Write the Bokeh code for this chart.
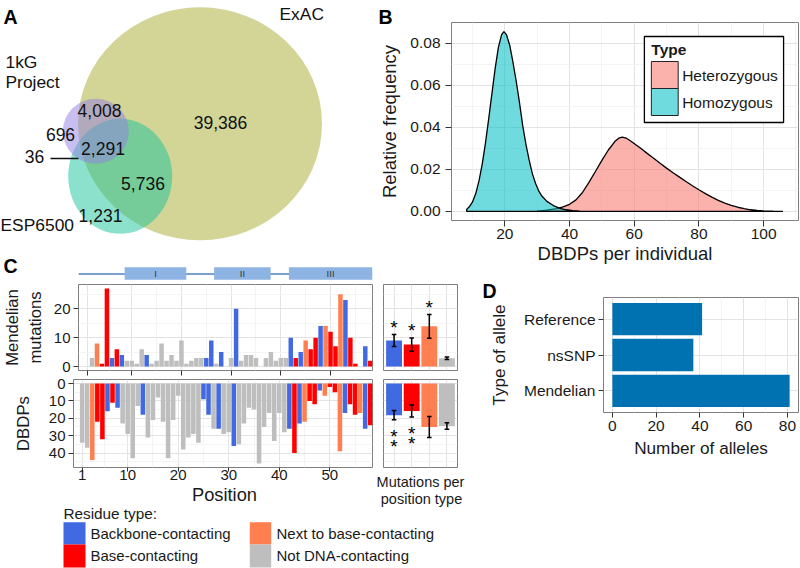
from bokeh.plotting import figure
from bokeh.layouts import row, column
from bokeh.models import Range1d, FixedTicker, Grid, NumeralTickFormatter, ColumnDataSource, GridBox
from bokeh.embed import file_html
from bokeh.resources import INLINE
from bokeh.core.properties import value

# ======================= DATA =======================
# Panel A: Venn region counts
venn_set_names = ["ExAC", "1kG", "Project", "ESP6500"]
venn_region_keys = ["ExAC only", "1kG+ExAC", "1kG only", "all three", "1kG+ESP", "ESP+ExAC", "ESP only"]
venn_region_counts = [39386, 4008, 696, 2291, 36, 5736, 1231]

# Panel B: density curves
hom_x = [8.2, 9, 10, 11, 12, 13, 14, 15, 16, 17, 18, 19, 19.7, 20.5, 21.5, 22.5, 23.5, 24.5, 25.5, 26.5,
         27.5, 28.5, 29.5, 30.5, 31.5, 33, 35, 37, 39, 41, 43]
hom_y = [0.0010, 0.0022, 0.0045, 0.0085, 0.0145, 0.0225, 0.0325, 0.0440, 0.0560, 0.0680,
         0.0780, 0.0840, 0.0855, 0.0840, 0.0790, 0.0710, 0.0620, 0.0520, 0.0410, 0.0320,
         0.0245, 0.0180, 0.0133, 0.0097, 0.0072, 0.0048, 0.0028, 0.0015, 0.0008, 0.0004, 0.0001]
het_x = [30, 33, 36, 38, 40, 42, 44, 46, 48, 50, 52, 54, 55.2, 56.3, 57.5, 59, 60.5, 62, 64, 66,
         68, 70, 72, 74, 76, 78, 80, 82, 84, 86, 88, 90, 92, 94, 96, 98, 100, 103, 106]
het_y = [0.0002, 0.0006, 0.0013, 0.0022, 0.0034, 0.0055, 0.0090, 0.0138, 0.0190, 0.0243,
         0.0292, 0.0332, 0.0348, 0.0353, 0.0349, 0.0334, 0.0317, 0.0300, 0.0276, 0.0253,
         0.0229, 0.0206, 0.0184, 0.0163, 0.0142, 0.0122, 0.0103, 0.0085, 0.0068, 0.0053,
         0.0040, 0.0029, 0.0020, 0.0013, 0.0008, 0.0005, 0.0003, 0.0001, 0.0000]
density_types = ["Heterozygous", "Homozygous"]

# Panel C: per position
positions = list(range(1, 59))
# 0 backbone, 1 base, 2 next to base, 3 not DNA-contacting
residue_type = [3, 3, 2, 1, 1, 0, 1, 0, 3, 3,
                3, 3, 0, 3, 3, 3, 3, 3, 3, 3,
                3, 3, 3, 3, 0, 0, 3, 0, 3, 3,
                0, 3, 3, 3, 3, 3, 3, 3, 3, 3,
                3, 0, 1, 0, 2, 1, 1, 0, 2, 1,
                1, 2, 0, 1, 1, 2, 0, 1]
mendelian_mutations = [0, 3, 8, 1, 27, 3, 6, 4, 2, 2,
                       1, 6, 4, 1, 2, 8, 2, 4, 2, 9,
                       1, 2, 3, 3, 3, 9, 1, 5, 0, 3,
                       20, 2, 4, 4, 3, 0, 3, 5, 2, 3,
                       3, 10, 3, 5, 9, 6, 10, 14, 14, 12,
                       7, 25, 23, 10, 1, 0, 7, 2]
dbdp_counts = [34, 37, 44, 22, 32, 16, 11, 14, 23, 29,
               43, 13, 18, 31, 21, 8, 22, 43, 21, 7,
               38, 31, 29, 34, 9, 18, 26, 26, 29, 28,
               36, 35, 23, 14, 15, 46, 25, 17, 33, 17,
               28, 26, 40, 23, 22, 10, 12, 4, 7, 2,
               5, 39, 17, 12, 18, 17, 26, 24]
residue_type_names = ["Backbone-contacting", "Base-contacting", "Next to base-contacting", "Not DNA-contacting"]
residue_colors = ["#4169E1", "#FF0000", "#FF7F50", "#BEBEBE"]

mend_mean = [9.0, 7.6, 13.9, 2.9]
mend_se = [2.05, 2.3, 4.1, 0.45]
mend_sig = [1, 1, 1, 0]
dbdp_mean = [18.2, 15.8, 25.0, 24.4]
dbdp_se = [2.7, 3.5, 6.0, 1.9]
dbdp_sig = [2, 2, 0, 0]

domain_names = ["I", "II", "III"]
domain_start = [9.4, 27.1, 41.9]
domain_end = [21.6, 38.3, 58.4]
protein_span = [0.3, 58.4]

# Panel D
allele_types = ["Reference", "nsSNP", "Mendelian"]
allele_counts = [41, 37, 81]

# ======================= HELPERS =======================
FONT = "Liberation Sans"
TXT = "#1a1a1a"


def fpx(v):
    return f"{v:.1f}px"


class Fr:
    """maps page pixels to data coordinates of a figure"""
    def __init__(self, ox, oy, left, top, w, h, xr, yr):
        self.ox, self.oy, self.left, self.top, self.w, self.h = ox, oy, left, top, w, h
        self.xr, self.yr = xr, yr

    def dx(self, rx):
        return self.xr[0] + (rx - self.ox - self.left) * (self.xr[1] - self.xr[0]) / self.w

    def dy(self, ry):
        return self.yr[1] - (ry - self.oy - self.top) * (self.yr[1] - self.yr[0]) / self.h


def mk(w, h, xr, yr, ml, mr, mt, mb, axes=True, grids=True):
    kw = {}
    if not axes:
        kw = dict(x_axis_location=None, y_axis_location=None)
    p = figure(width=w, height=h, x_range=Range1d(xr[0], xr[1]), y_range=Range1d(yr[0], yr[1]),
               min_border_left=ml, min_border_right=mr, min_border_top=mt, min_border_bottom=mb,
               output_backend="svg", toolbar_location=None, **kw)
    p.outline_line_color = "#7F7F7F"
    p.outline_line_width = 1
    p.background_fill_color = "white"
    p.border_fill_color = "white"
    if not grids:
        for g in p.grid:
            g.visible = False
        p.outline_line_color = None
    return p


def style_axis(ax, ticks, size, tick_out=5, standoff=3, label=None, lsize=None, lstandoff=5,
               overrides=None, fmt=None, hide=False):
    ax.ticker = FixedTicker(ticks=ticks)
    ax.axis_line_color = None
    ax.major_tick_in = 0
    ax.major_tick_out = tick_out
    ax.minor_tick_in = 0
    ax.minor_tick_out = 0
    ax.major_tick_line_color = "#333333"
    ax.major_tick_line_width = 1
    ax.major_label_text_font = FONT
    ax.major_label_text_font_size = "1px" if hide else size
    ax.major_label_text_color = None if hide else TXT
    ax.major_label_standoff = standoff
    if overrides:
        ax.major_label_overrides = overrides
    if fmt is not None:
        ax.formatter = fmt
    if label:
        ax.axis_label = label
        ax.axis_label_text_font = FONT
        ax.axis_label_text_font_size = lsize
        ax.axis_label_text_font_style = "normal"
        ax.axis_label_text_color = TXT
        ax.axis_label_standoff = lstandoff


def set_grids(p, xt, xm, yt, ym):
    gx = [g for g in p.grid if g.dimension == 0]
    gy = [g for g in p.grid if g.dimension == 1]
    if not gx:
        gx = [Grid(dimension=0)]
        p.add_layout(gx[0])
    if not gy:
        gy = [Grid(dimension=1)]
        p.add_layout(gy[0])
    for g, t, m in ((gx[0], xt, xm), (gy[0], yt, ym)):
        g.visible = True
        g.ticker = FixedTicker(ticks=t, minor_ticks=m)
        g.grid_line_color = "#E3E3E3"
        g.grid_line_width = 1
        g.minor_grid_line_color = "#F4F4F4"
        g.minor_grid_line_width = 1


def txt(p, xs, ys, texts, size, align="center", baseline="middle", bold=False, color=TXT):
    p.text(x=xs, y=ys, text=texts, text_font=value(FONT), text_font_size=size,
           text_align=align, text_baseline=baseline, text_color=color,
           text_font_style="bold" if bold else "normal")


# ======================= PANEL A (Venn) =======================
pA = mk(376, 256, (0, 376), (256, 0), 0, 0, 0, 0, axes=False, grids=False)
# circles: ExAC, ESP6500, 1kG (layout geometry in page pixels)
pA.ellipse(x=[199.5, 119.7, 95.3], y=[123.3, 175.8, 130.8], width=[244, 104, 66], height=[233, 115, 65],
           fill_color=["#A7AB2D", "#19C39B", "#917DE1"], fill_alpha=0.5, line_color=None)
reg_x = [220, 99, 60, 102.5, 34, 142.5, 100]
reg_y = [122, 110, 134, 148, 156, 183, 215]
txt(pA, reg_x, reg_y, [f"{c:,}" for c in venn_region_counts], fpx(17.5), color="#111111")
pA.segment(x0=[50], y0=[158], x1=[78], y1=[158], line_color="#111111", line_width=1.3)
txt(pA, [279, 5, 5, 0], [13.5, 61.5, 81.5, 224.3], venn_set_names, fpx(17.4), align="left",
    color="#111111")
txt(pA, [3], [16.5], ["A"], fpx(19.5), align="left", bold=True, color="black")

# ======================= PANEL C header (domains) =======================
XR = (-0.72, 58.45)
TM_LEFT, TM_W = 73, 299
ppu = TM_W / (XR[1] - XR[0])
xs0 = XR[0] - TM_LEFT / ppu
pCH = mk(376, 27, (xs0, xs0 + 376 / ppu), (283, 256), 0, 0, 0, 0, axes=False, grids=False)
pCH.segment(x0=[protein_span[0]], y0=[273.5], x1=[protein_span[1]], y1=[273.5], line_color="#4F81BD",
            line_width=1.3)
pCH.quad(left=domain_start, right=domain_end, top=[266.7] * 3, bottom=[279.3] * 3,
         fill_color="#8EB4E3", line_color=None)
txt(pCH, [(a + b) / 2 for a, b in zip(domain_start, domain_end)], [273.3] * 3, domain_names,
    fpx(9.5), color="#333333")
txt(pCH, [xs0 + 3 / ppu], [265], ["C"], fpx(19.5), align="left", bold=True, color="black")

# ======================= PANEL B =======================
XB, YB = (3.5, 110.8), (-0.0043, 0.0898)
frB = Fr(376, 0, 73, 22, 349, 198, XB, YB)
pB = mk(424, 283, XB, YB, 73, 2, 22, 63)
set_grids(pB, [20, 40, 60, 80, 100], [10, 30, 50, 70, 90, 110],
          [0, 0.02, 0.04, 0.06, 0.08], [0.01, 0.03, 0.05, 0.07])
pB.patch(x=[het_x[0]] + het_x + [het_x[-1]], y=[0] + het_y + [0], fill_color="#F8766D",
         fill_alpha=0.56, line_color="black", line_width=1.3)
pB.patch(x=[hom_x[0]] + hom_x + [hom_x[-1]], y=[0] + hom_y + [0], fill_color="#00BFC4",
         fill_alpha=0.56, line_color="black", line_width=1.3)
style_axis(pB.xaxis, [20, 40, 60, 80, 100], fpx(15.5), 6, 2, "DBDPs per individual", fpx(18.5), 1)
style_axis(pB.yaxis, [0, 0.02, 0.04, 0.06, 0.08], fpx(15.5), 6, 5, "Relative frequency", fpx(18.5), 7,
           fmt=NumeralTickFormatter(format="0.00"))
# legend
pB.quad(left=[frB.dx(643)], right=[frB.dx(783)], top=[frB.dy(36)], bottom=[frB.dy(122)],
        fill_color="white", line_color="black", line_width=1.3)
pB.quad(left=[frB.dx(650)] * 2, right=[frB.dx(677)] * 2, top=[frB.dy(61), frB.dy(88)],
        bottom=[frB.dy(88), frB.dy(115)], fill_color=["#F8766D", "#00BFC4"], fill_alpha=0.56,
        line_color="#222222", line_width=1)
txt(pB, [frB.dx(650)], [frB.dy(49)], ["Type"], fpx(15.5), align="left", bold=True)
txt(pB, [frB.dx(681)] * 2, [frB.dy(74.5), frB.dy(101.5)], density_types, fpx(15.5), align="left")

# ======================= PANEL C main =======================
src = ColumnDataSource(dict(x=positions, m=mendelian_mutations, d=dbdp_counts,
                            c=[residue_colors[t] for t in residue_type]))
cats = [1, 2, 3, 4]
XS = (0.4, 4.6)

# top main  (page y 283-376, frame 284-370)
YT = (-1.35, 28.35)
pTM = mk(378, 93, XR, YT, TM_LEFT, 378 - TM_LEFT - TM_W, 1, 6)
set_grids(pTM, [1, 10, 20, 30, 40, 50], [5.5, 15, 25, 35, 45, 55], [0, 10, 20], [5, 15, 25])
pTM.vbar(x="x", top="m", bottom=0, width=0.9, fill_color="c", line_color=None, source=src)
style_axis(pTM.xaxis, [1, 10, 20, 30, 40, 50], fpx(15), 5, 0, hide=True)
style_axis(pTM.yaxis, [0, 10, 20], fpx(15), 5, 3, "Mendelian\nmutations", fpx(16.6), 6)

# top small
pTS = mk(98, 93, XS, YT, 5, 19, 1, 6, axes=False)
set_grids(pTS, cats, [], [0, 10, 20], [5, 15, 25])
pTS.vbar(x=cats, top=mend_mean, bottom=0, width=0.9, fill_color=residue_colors, line_color=None)
m_lo = [m - s for m, s in zip(mend_mean, mend_se)]
m_hi = [m + s for m, s in zip(mend_mean, mend_se)]
pTS.segment(x0=cats, y0=m_lo, x1=cats, y1=m_hi, line_color="black", line_width=1.5)
for yy in (m_lo, m_hi):
    pTS.segment(x0=[c - 0.13 for c in cats], y0=yy, x1=[c + 0.13 for c in cats], y1=yy,
                line_color="black", line_width=1.5)
tx = [c for c, n in zip(cats, mend_sig) if n]
ty = [h + 2.5 for h, n in zip(m_hi, mend_sig) if n]
txt(pTS, tx, ty, ["*"] * len(tx), fpx(19), color="black")

# bottom main  (page y 376-507, frame 379-467)
YBt = (48.3, -2.3)
pBM = mk(378, 131, XR, YBt, TM_LEFT, 378 - TM_LEFT - TM_W, 3, 40)
set_grids(pBM, [1, 10, 20, 30, 40, 50], [5.5, 15, 25, 35, 45, 55], [0, 10, 20, 30, 40], [5, 15, 25, 35, 45])
pBM.vbar(x="x", top="d", bottom=0, width=0.9, fill_color="c", line_color=None, source=src)
style_axis(pBM.xaxis, [1, 10, 20, 30, 40, 50], fpx(15), 4, -2)
style_axis(pBM.yaxis, [0, 10, 20, 30, 40], fpx(15), 5, 3, "DBDPs", fpx(16.8), 13)

# bottom small
pBS = mk(98, 131, XS, YBt, 5, 19, 3, 40, axes=False)
set_grids(pBS, cats, [], [0, 10, 20, 30, 40], [5, 15, 25, 35, 45])
pBS.vbar(x=cats, top=dbdp_mean, bottom=0, width=0.9, fill_color=residue_colors, line_color=None)
d_lo = [m - s for m, s in zip(dbdp_mean, dbdp_se)]
d_hi = [m + s for m, s in zip(dbdp_mean, dbdp_se)]
pBS.segment(x0=cats, y0=d_lo, x1=cats, y1=d_hi, line_color="black", line_width=1.5)
for yy in (d_lo, d_hi):
    pBS.segment(x0=[c - 0.13 for c in cats], y0=yy, x1=[c + 0.13 for c in cats], y1=yy,
                line_color="black", line_width=1.5)
sx, sy = [], []
for c, h, n in zip(cats, d_hi, dbdp_sig):
    for k in range(n):
        sx.append(c)
        sy.append(h + 9.5 + 5.9 * k)
txt(pBS, sx, sy, ["*"] * len(sx), fpx(19), color="black")

# residue legend  (page y 507-568)
pL = mk(476, 61, (0, 476), (568, 507), 0, 0, 0, 0, axes=False, grids=False)
pL.quad(left=[63, 63, 249.3, 249.3], right=[85, 85, 270.7, 270.7],
        top=[521.7, 544, 521.7, 544], bottom=[544, 567, 544, 567],
        fill_color=residue_colors, line_color=None)
txt(pL, [90, 90, 276, 276], [532.8, 555.3, 532.8, 555.3], residue_type_names, fpx(15), align="left")

# ======================= PANEL D =======================
XD, YD = (-4.05, 85.05), (0.4, 3.6)
pD = mk(324, 285, XD, YD, 127, 2, 14, 156)
ys = [len(allele_types) - i for i in range(len(allele_types))]
set_grids(pD, [0, 20, 40, 60, 80], [10, 30, 50, 70], ys, [])
pD.hbar(y=ys, right=allele_counts, left=0, height=0.9, fill_color="#0072B2", line_color=None)
style_axis(pD.xaxis, [0, 20, 40, 60, 80], fpx(15.5), 5, 3, "Number of alleles", fpx(17.2), 4)
style_axis(pD.yaxis, ys, fpx(15.5), 5, 3, "Type of allele", fpx(17.2), 12,
           overrides={y: n for y, n in zip(ys, allele_types)})

# ======================= OVERLAY (free texts in page pixels) =======================
pO = figure(width=800, height=568, x_range=Range1d(0, 800), y_range=Range1d(568, 0),
            min_border=0, x_axis_location=None, y_axis_location=None,
            output_backend="svg", toolbar_location=None)
for g in pO.grid:
    g.visible = False
pO.outline_line_color = None
pO.background_fill_color = None
pO.border_fill_color = None
txt(pO, [378, 482], [16.5, 290.5], ["B", "D"], fpx(19.5), align="left", bold=True, color="black")
txt(pO, [224], [493.5], ["Position"], fpx(18.3))
txt(pO, [420, 421], [481, 498.5], ["Mutations per", "position type"], fpx(14.5))
txt(pO, [63], [512.5], ["Residue type:"], fpx(15.3), align="left")

# ======================= LAYOUT =======================
r1 = row(column(pA, pCH), pB)
cmain = column(row(pTM, pTS), row(pBM, pBS), pL)
r2 = row(cmain, pD)
main = column(r1, r2)
root = GridBox(children=[(main, 0, 0), (pO, 0, 0)])

open("out.html", "w").write(file_html(root, INLINE))
